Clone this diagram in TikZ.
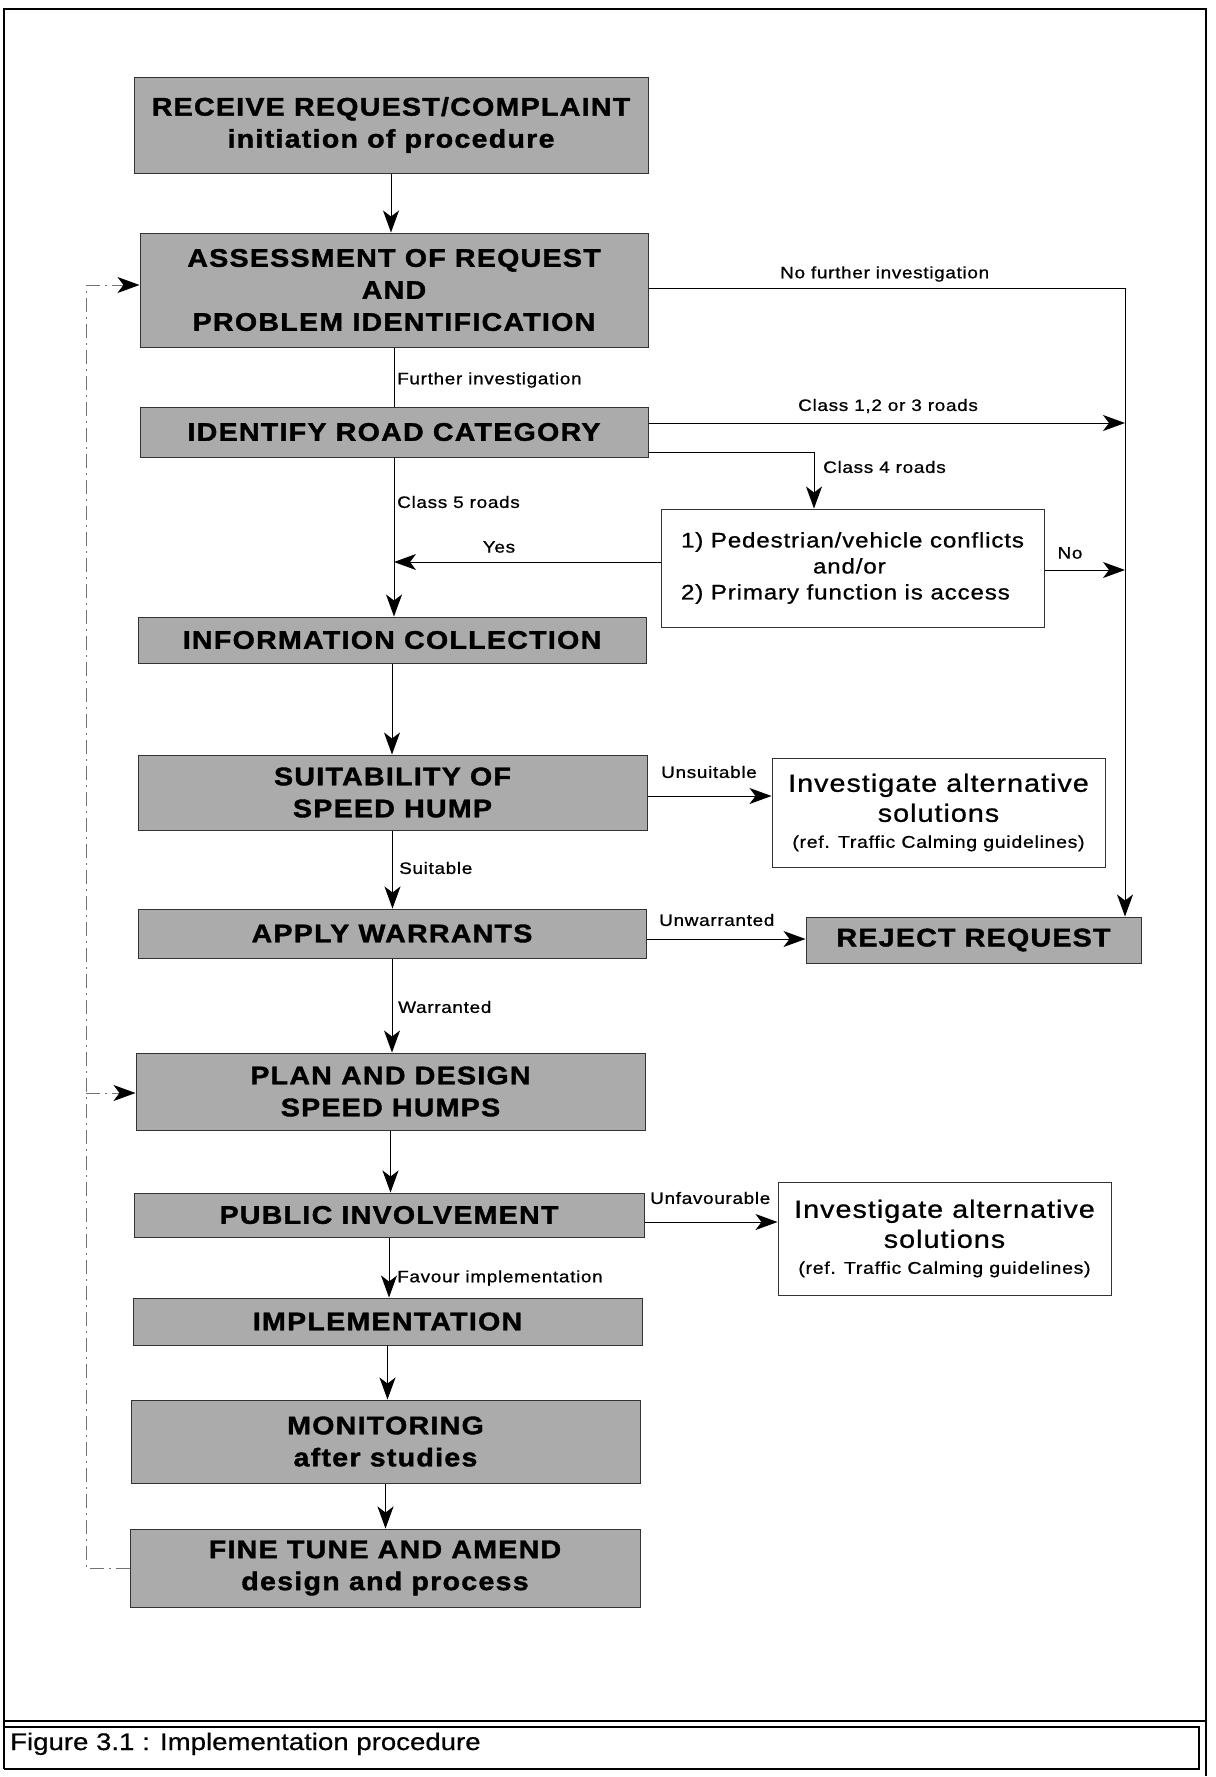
\documentclass[tikz,border=0pt]{standalone}
\usepackage{fontspec}
\setmainfont{Liberation Sans}[FakeStretch=1.15]
\newfontfamily\bxfont{Liberation Sans Bold}[FakeStretch=1.12,LetterSpace=5,FakeBold=1.5]
\newfontfamily\lbfont{Liberation Sans}[FakeStretch=1.15,LetterSpace=4,FakeBold=0.8]
\newfontfamily\capfont{Liberation Sans}[FakeStretch=1.15,FakeBold=0.6]
\usetikzlibrary{arrows.meta}
\begin{document}
\begin{tikzpicture}[x=1pt,y=-1pt,
  gbox/.style={draw=black!80, line width=1pt, fill=black!33, inner sep=0pt, align=center,
    font=\bxfont\fontsize{25.5}{32}\selectfont},
  wbox/.style={draw=black!80, line width=1pt, fill=white, inner sep=0pt, align=center},
  lbl/.style={inner sep=0pt, font=\lbfont\fontsize{16.5}{20}\selectfont},
  tip/.style={-{Stealth[length=22pt,width=16pt,inset=6pt,color=black]}},
  arr/.style={line width=1pt, tip},
  ln/.style={line width=1pt},
  fbl/.style={line width=0.8pt, draw=black!55, dash pattern=on 14pt off 5pt on 2pt off 5pt},
  frame/.style={line width=2pt, line join=miter},
]
\useasboundingbox (0,0) rectangle (1215,1777);
% outer frame and caption box
\draw[frame] (4,1769) -- (4,9) -- (1206,9) -- (1206,1776);
\draw[frame] (4,1721) -- (1206,1721);
\draw[frame] (4,1727) -- (1199,1727) -- (1199,1769) -- (4,1769);
\node[anchor=base west, inner sep=0pt, font=\capfont\fontsize{24}{28}\selectfont] (cap) at (10,1750) {Figure 3.1 : Implementation procedure};

% boxes
\node[gbox, minimum width=514pt, minimum height=96pt] (b1) at (391,125) {RECEIVE REQUEST/COMPLAINT\\initiation of procedure};
\node[gbox, minimum width=508pt, minimum height=114pt] (b2) at (394,290) {ASSESSMENT OF REQUEST\\AND\\PROBLEM IDENTIFICATION};
\node[gbox, minimum width=508pt, minimum height=50pt] (b3) at (394,432) {IDENTIFY ROAD CATEGORY};
\node[wbox, minimum width=383pt, minimum height=118pt, align=left,
  font=\lbfont\fontsize{21}{26}\selectfont] (b4) at (852.5,568)
  {1) Pedestrian/vehicle conflicts\\\hspace*{132pt}and/or\\2) Primary function is access};
\node[gbox, minimum width=508pt, minimum height=46pt] (b5) at (392,640) {INFORMATION COLLECTION};
\node[gbox, minimum width=509pt, minimum height=75pt] (b6) at (392.5,792.5) {SUITABILITY OF\\SPEED HUMP};
\node[wbox, minimum width=333pt, minimum height=109pt,
  font=\lbfont\fontsize{25}{30}\selectfont] (b7) at (938.5,812.5)
  {Investigate alternative\\solutions\\[-4pt]{\fontsize{17}{20}\selectfont (ref. Traffic Calming guidelines)}};
\node[gbox, minimum width=508pt, minimum height=49pt] (b8) at (392,933.5) {APPLY WARRANTS};
\node[gbox, minimum width=335pt, minimum height=46pt] (b9) at (973.5,940) {REJECT REQUEST};
\node[gbox, minimum width=509pt, minimum height=77pt] (b10) at (390.5,1091.5) {PLAN AND DESIGN\\SPEED HUMPS};
\node[gbox, minimum width=510pt, minimum height=44pt] (b11) at (389,1215) {PUBLIC INVOLVEMENT};
\node[wbox, minimum width=333pt, minimum height=113pt,
  font=\lbfont\fontsize{25}{30}\selectfont] (b12) at (944.5,1238.5)
  {Investigate alternative\\solutions\\[-4pt]{\fontsize{17}{20}\selectfont (ref. Traffic Calming guidelines)}};
\node[gbox, minimum width=509pt, minimum height=47pt] (b13) at (387.5,1321.5) {IMPLEMENTATION};
\node[gbox, minimum width=509pt, minimum height=83pt] (b14) at (385.5,1441.5) {MONITORING\\after studies};
\node[gbox, minimum width=510pt, minimum height=78pt] (b15) at (385,1568) {FINE TUNE AND AMEND\\design and process};

% coordinates
\coordinate (rt) at (1125,288);
\coordinate (c123) at (1125,423);
\coordinate (c4) at (814,452);
\coordinate (cno) at (1125,570);
\coordinate (cy) at (b3.south |- 0,562);
\coordinate (fb1) at (86,1568);
\coordinate (fb2) at (86,285);
\coordinate (fb3) at (86,1093);

% connectors
\draw[arr] (b1.south) -- (b1.south |- b2.north);
\draw[ln] (b2.south) -- (b2.south |- b3.north);
\draw[arr] (b2.east |- rt) -- (rt) -- (rt |- b9.north);
\draw[arr] (b3.east |- c123) -- (c123);
\draw[arr] (b3.east |- c4) -- (c4) -- (c4 |- b4.north);
\draw[arr] (b3.south) -- (b3.south |- b5.north);
\draw[arr] (b4.west |- cy) -- (cy);
\draw[arr] (b4.east |- cno) -- (cno);
\draw[arr] (b5.south) -- (b5.south |- b6.north);
\draw[arr] (b6.south) -- (b6.south |- b8.north);
\draw[arr] (b6.east |- 0,796) -- (b7.west |- 0,796);
\draw[arr] (b8.east |- 0,939) -- (b9.west |- 0,939);
\draw[arr] (b8.south) -- (b8.south |- b10.north);
\draw[arr] (b10.south) -- (b10.south |- b11.north);
\draw[arr] (b11.east |- 0,1222) -- (b12.west |- 0,1222);
\draw[arr] (b11.south) -- (b11.south |- b13.north);
\draw[arr] (b13.south) -- (b13.south |- b14.north);
\draw[arr] (b14.south) -- (b14.south |- b15.north);
% feedback loop
\draw[fbl, tip] (b15.west) -- (fb1) -- (fb2) -- (b2.west |- fb2);
\draw[fbl, tip] (fb3) -- (b10.west |- fb3);

% labels
\node[lbl, anchor=west] (l1) at (780,274) {No further investigation};
\node[lbl, anchor=west] (l2) at (397,380) {Further investigation};
\node[lbl, anchor=west] (l3) at (798,406) {Class 1,2 or 3 roads};
\node[lbl, anchor=west] (l4) at (823,467) {Class 4 roads};
\node[lbl, anchor=west] (l5) at (397,502) {Class 5 roads};
\node[lbl] (l6) at (499,547) {Yes};
\node[lbl] (l7) at (1070,553) {No};
\node[lbl, anchor=west] (l8) at (661,772) {Unsuitable};
\node[lbl, anchor=west] (l9) at (399,868) {Suitable};
\node[lbl, anchor=west] (l10) at (659,920) {Unwarranted};
\node[lbl, anchor=west] (l11) at (398,1007) {Warranted};
\node[lbl, anchor=west] (l12) at (650,1198) {Unfavourable};
\node[lbl, anchor=west] (l13) at (397,1278) {Favour implementation};
\end{tikzpicture}
\end{document}
